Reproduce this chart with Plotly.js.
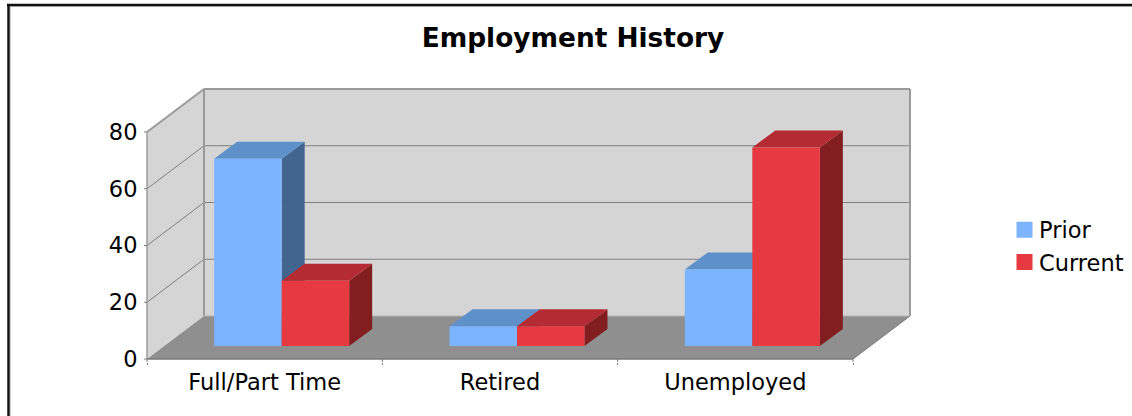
<!DOCTYPE html>
<html><head><meta charset="utf-8">
<script src="https://cdn.plot.ly/plotly-3.0.1.min.js"></script>
<style>html,body{margin:0;padding:0;background:#fff}#c{width:1132px;height:416px}</style>
</head><body><div id="c"></div>
<script>
const categories = ["Full/Part Time", "Retired", "Unemployed"];
const prior = [66, 7, 27];
const current = [23, 7, 70];
const yTicks = [0, 20, 40, 60, 80];

const seriesNames = ["Prior", "Current"];
const yMax = 80;
const W = 1132, H = 416;
const pad = 3;
const left = 147 - pad, right = 910 + pad, top_ = 89 - pad, bottom = 359 + pad;
const perCat = (853 - 147) / categories.length;   // px per category
const perUnit = (359 - 132) / yMax;               // px per value unit
const wallDX = 57 / perCat, wallDY = 43 / perUnit;
const barDX = 23 / perCat, barDY = 17 / perUnit;
const insetDX = 17 / perCat, insetDY = 13 / perUnit;
const barW = 67.5 / perCat;
const padX = pad / perCat, padY = pad / perUnit;
const x0 = -0.5, x1 = categories.length - 0.5;
const idx = categories.map((_, i) => i);
const boundaries = [...idx.map(i => i - 0.5), x1];
const pxX = px => (px - left) / (right - left);
const pxY = py => (bottom - py) / (bottom - top_);

const C = {
  wall: "#d5d5d5", floor: "#8f8f8f", edge: "#9a9a9a", grid: "#7f7f7f", axis: "#7a7a7a",
  prior: "#7db4ff", priorSide: "#41658f", priorTop: "#5e90c9",
  current: "#e63a40", currentSide: "#821e20", currentTop: "#b52b33"
};

const poly = pts => "M" + pts.map(p => p.join(",")).join("L") + "Z";
const shapes = [
  {type:"path", path:poly([[x0,0],[x0+wallDX,wallDY],[x0+wallDX,yMax+wallDY],[x0,yMax]]), fillcolor:C.wall, line:{width:0}, layer:"below"},
  {type:"path", path:poly([[x0+wallDX,wallDY],[x1+wallDX,wallDY],[x1+wallDX,yMax+wallDY],[x0+wallDX,yMax+wallDY]]), fillcolor:C.wall, line:{width:0}, layer:"below"},
  {type:"path", path:poly([[x0,0],[x1,0],[x1+wallDX,wallDY],[x0+wallDX,wallDY]]), fillcolor:C.floor, line:{width:0}, layer:"below"}
];
const seg = (xa,ya,xb,yb,color,width) => ({type:"line",x0:xa,y0:ya,x1:xb,y1:yb,line:{color,width},layer:"below"});
yTicks.filter(v => v > 0 && v < yMax).forEach(v => {
  shapes.push(seg(x0,v,x0+wallDX,v+wallDY,C.grid,1));
  shapes.push(seg(x0+wallDX,v+wallDY,x1+wallDX,v+wallDY,C.grid,1));
});
shapes.push(seg(x0,yMax,x0+wallDX,yMax+wallDY,C.edge,2));
shapes.push(seg(x0+wallDX,yMax+wallDY,x1+wallDX,yMax+wallDY,C.edge,2));
shapes.push(seg(x1+wallDX,yMax+wallDY,x1+wallDX,wallDY,C.edge,2));
shapes.push(seg(x0+wallDX,yMax+wallDY,x0+wallDX,wallDY,C.edge,2));
shapes.push(seg(x0+wallDX,wallDY,x1+wallDX,wallDY,"#b5b5b5",1));
shapes.push(seg(x0,0,x0,yMax,C.edge,1.5));
shapes.push(seg(x0,0,x1,0,C.axis,1.5));
shapes.push(seg(x1,0,x1+wallDX,wallDY,C.axis,1));
yTicks.forEach(v => shapes.push(seg(x0-padX,v,x0,v,C.axis,1)));
boundaries.forEach(b => shapes.push(seg(b,-padY,b,0,C.axis,1)));
// page frame
const frame = (a,b,c,d,color,width) => ({type:"line",xref:"paper",yref:"paper",x0:pxX(a),y0:pxY(b),x1:pxX(c),y1:pxY(d),line:{color,width}});
shapes.push(frame(10.5,7,10.5,H,"#d0d0d0",1));
shapes.push(frame(10,6.5,W,6.5,"#d0d0d0",1));
shapes.push(frame(8.5,H,8.5,5,"#111",2.5));
shapes.push(frame(7,5,W,5,"#111",2.5));

const leftOf = (i,s) => i + insetDX - barW + s*barW;
function faces(vals, s, kind) {
  const xs = [], ys = [];
  vals.forEach((v,i) => {
    const a = leftOf(i,s), b = a + barW, lo = insetDY, hi = insetDY + v;
    const pts = kind === "side" ? [[b,lo],[b+barDX,lo+barDY],[b+barDX,hi+barDY],[b,hi],[b,lo]]
      : kind === "top" ? [[a,hi],[b,hi],[b+barDX,hi+barDY],[a+barDX,hi+barDY],[a,hi]]
      : [[a,lo],[b,lo],[b,hi],[a,hi],[a,lo]];
    pts.forEach(p => { xs.push(p[0]); ys.push(p[1]); });
    xs.push(null); ys.push(null);
  });
  return {x:xs,y:ys,type:"scatter",mode:"lines",fill:"toself",line:{width:0},hoverinfo:"skip",showlegend:false,connectgaps:false};
}
const face = (vals,s,kind,c) => Object.assign(faces(vals,s,kind),{fillcolor:c});
const key = (name,c) => ({type:"scatter",mode:"markers",name,x:[null],y:[null],legendgroup:name,marker:{symbol:"square",size:16,color:c,line:{width:0}},hoverinfo:"skip"});

const data = [
  face(prior,0,"side",C.priorSide),
  face(prior,0,"top",C.priorTop),
  face(prior,0,"front",C.prior),
  face(current,1,"side",C.currentSide),
  face(current,1,"top",C.currentTop),
  face(current,1,"front",C.current),
  key(seriesNames[0],C.prior),
  key(seriesNames[1],C.current)
];

const font = "'DejaVu Sans', sans-serif";
const layout = {
  width:W, height:H, paper_bgcolor:"#fff", plot_bgcolor:"rgba(0,0,0,0)",
  margin:{l:left,r:W-right,t:top_,b:H-bottom,pad:0},
  font:{family:font,size:22.5,color:"#000"},
  title:{text:"<b>Employment History</b>",x:573/W,xanchor:"center",y:1-38/H,yanchor:"middle",font:{family:font,size:26.4,color:"#000"}},
  xaxis:{type:"linear",range:[x0-padX,x1+wallDX+padX],tickvals:idx,ticktext:categories,ticks:"outside",ticklen:0,tickcolor:"rgba(0,0,0,0)",showgrid:false,zeroline:false,showline:false,
    tickfont:{size:22.5},
    minor:{tickvals:boundaries,ticks:"outside",ticklen:2,tickcolor:C.axis,tickwidth:1,showgrid:false}},
  yaxis:{type:"linear",range:[-padY,yMax+wallDY+padY],tickvals:yTicks,ticktext:yTicks.map(String),ticks:"outside",ticklen:1,tickcolor:"rgba(0,0,0,0)",showgrid:false,zeroline:false,showline:false,tickfont:{size:22.5}},
  legend:{xref:"container",yref:"container",x:999/W,xanchor:"left",y:1-246/H,yanchor:"middle",font:{size:22.5},bgcolor:"rgba(0,0,0,0)",traceorder:"normal",tracegroupgap:2},
  shapes,
  showlegend:true, hovermode:false
};
Plotly.newPlot("c",data,layout,{displayModeBar:false,staticPlot:true}).then(gd => {
  gd.querySelectorAll(".legendsymbols").forEach(g => g.setAttribute("transform","translate(5.5,0)"));
});
</script></body></html>
